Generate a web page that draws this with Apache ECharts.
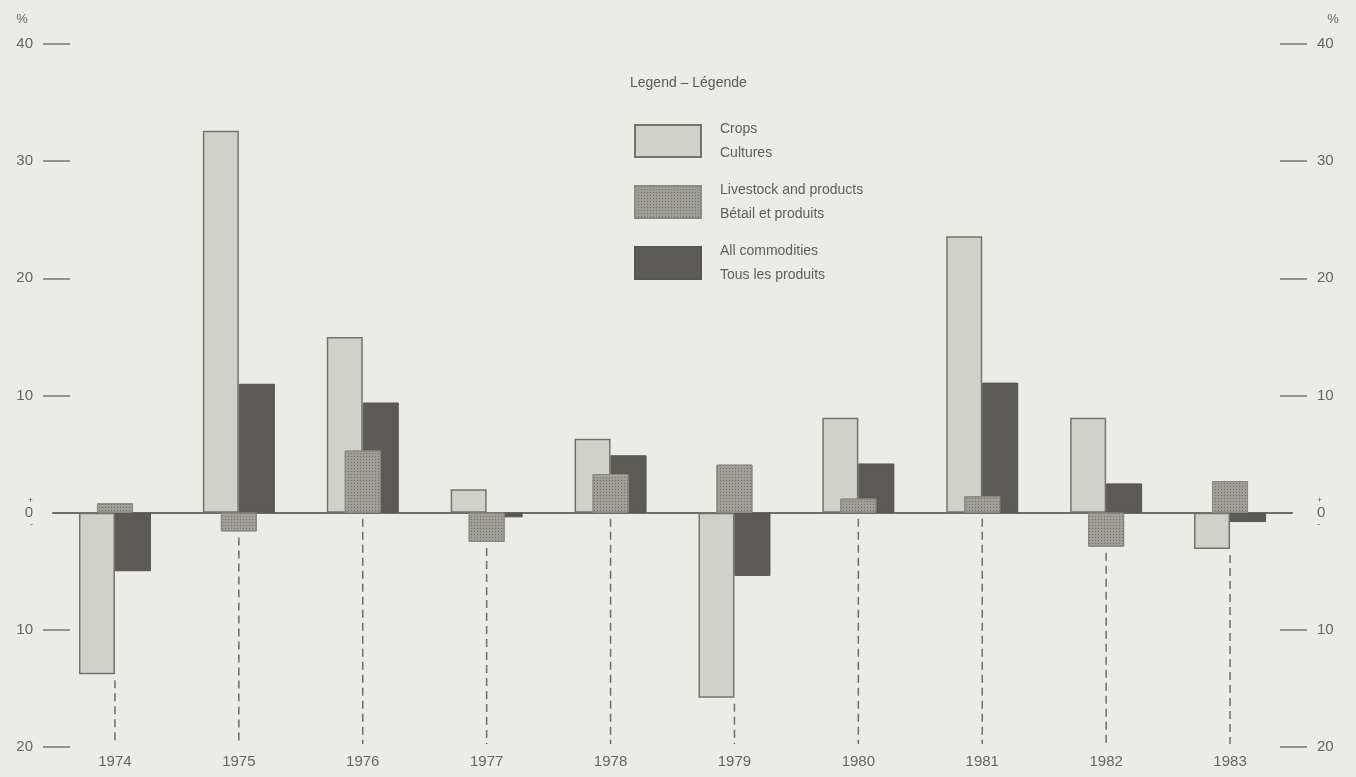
<!DOCTYPE html>
<html>
<head>
<meta charset="utf-8">
<script src="https://cdn.jsdelivr.net/npm/echarts@6/dist/echarts.min.js"></script>
<style>
html,body{margin:0;padding:0;background:#ebece4;}
#chart{width:1356px;height:777px;}
</style>
</head>
<body>
<div id="chart"></div>
<script>
const years = ['1974','1975','1976','1977','1978','1979','1980','1981','1982','1983'];
const crops = [-13.8, 32.6, 15.0, 2.0, 6.3, -15.8, 8.1, 23.6, 8.1, -3.1];
const livestock = [0.8, -1.6, 5.3, -2.5, 3.3, 4.1, 1.2, 1.4, -2.9, 2.7];
const allCommodities = [-5.0, 11.0, 9.4, -0.4, 4.9, -5.4, 4.2, 11.1, 2.5, -0.8];
const yTicks = [-20, -10, 0, 10, 20, 30, 40];
const seriesNames = ['Crops', 'Livestock and products', 'All commodities'];
const seriesNamesFr = ['Cultures', 'Bétail et produits', 'Tous les produits'];

const lowPoints = years.map((y, i) => [i, Math.min(0, crops[i], livestock[i], allCommodities[i])]);

const FONT = '"Liberation Sans", Arial, sans-serif';
const TXT = '#66665e';

function yAxisCfg(side) {
  const isLeft = side === 'left';
  return {
    type: 'value', position: side, min: -20, max: 40, interval: 10,
    offset: isLeft ? -17 : -12,
    name: '%', nameLocation: 'end', nameGap: 18,
    nameTextStyle: { color: TXT, fontSize: 13, fontFamily: FONT, align: 'center',
      padding: isLeft ? [0, 96, 0, 0] : [0, 0, 0, 106] },
    axisLine: { show: false },
    axisTick: { show: true, length: 27, customValues: [-20, -10, 10, 20, 30, 40],
      lineStyle: { color: '#77776e', width: 1.5 } },
    splitLine: { show: false },
    axisLabel: {
      margin: 37, color: TXT, fontSize: 15, fontFamily: FONT,
      customValues: yTicks,
      formatter: v => v === 0 ? '{s|+}\n0\n{s|-}' : String(Math.abs(v)),
      rich: { s: { fontSize: 9, color: TXT, lineHeight: 9, fontFamily: FONT } },
      lineHeight: 15
    }
  };
}

const chart = echarts.init(document.getElementById('chart'));
chart.setOption({
  backgroundColor: '#ebece4',
  animation: false,
  title: {
    text: 'Legend – Légende', left: 625, top: 71,
    textStyle: { color: '#5a5a52', fontSize: 14, fontWeight: 'normal', fontFamily: FONT }
  },
  legend: {
    orient: 'vertical', left: 634, top: 117, padding: 0, itemWidth: 66, itemHeight: 32, itemGap: 13,
    icon: 'rect', selectedMode: false,
    data: seriesNames,
    formatter: n => n + '\n' + seriesNamesFr[seriesNames.indexOf(n)],
    textStyle: { color: '#5f5f57', fontSize: 14, lineHeight: 24, fontFamily: FONT, padding: [0, 0, 0, 14] }
  },
  grid: { left: 53, right: 64, top: 44, bottom: 30 },
  xAxis: [
    { type: 'category', data: years, position: 'bottom',
      axisLine: { onZero: true, lineStyle: { color: '#6e6e66', width: 2 } },
      axisTick: { show: false }, axisLabel: { show: false } },
    { type: 'category', data: years, position: 'bottom',
      axisLine: { show: false, onZero: false }, axisTick: { show: false },
      axisLabel: { color: TXT, fontSize: 15, fontFamily: FONT, margin: 7 } }
  ],
  yAxis: [yAxisCfg('left'), yAxisCfg('right')],
  series: [
    {
      type: 'custom', xAxisIndex: 0, yAxisIndex: 0, z: 1, silent: true,
      data: lowPoints,
      renderItem: (params, api) => {
        const top = api.coord([api.value(0), api.value(1)]);
        const bot = api.coord([api.value(0), -20]);
        return { type: 'line', shape: { x1: top[0], y1: top[1] + 6, x2: bot[0], y2: bot[1] - 3 },
          style: { stroke: '#6e6e66', lineWidth: 1.5, lineDash: [8, 5] } };
      }
    },
    {
      name: seriesNames[0], type: 'bar', xAxisIndex: 0, yAxisIndex: 0, data: crops,
      barWidth: 36, barGap: '0%', z: 2,
      itemStyle: { color: '#d1d2c6', borderColor: '#74746b', borderWidth: 1.5 }
    },
    {
      name: seriesNames[2], type: 'bar', xAxisIndex: 0, yAxisIndex: 0, data: allCommodities,
      barWidth: 36, barGap: '0%', z: 2,
      itemStyle: { color: '#5c5a53', borderColor: '#57554e', borderWidth: 1 }
    },
    {
      name: seriesNames[1], type: 'bar', xAxisIndex: 1, yAxisIndex: 0, data: livestock,
      barWidth: 36, z: 3,
      itemStyle: { color: '#a09f96', borderColor: '#8a8a81', borderWidth: 1,
        decal: { symbol: 'rect', symbolSize: 1, dashArrayX: [1, 2], dashArrayY: [1, 2],
          color: 'rgba(70,70,62,0.5)', rotation: 0 } }
    }
  ]
});
</script>
</body>
</html>
